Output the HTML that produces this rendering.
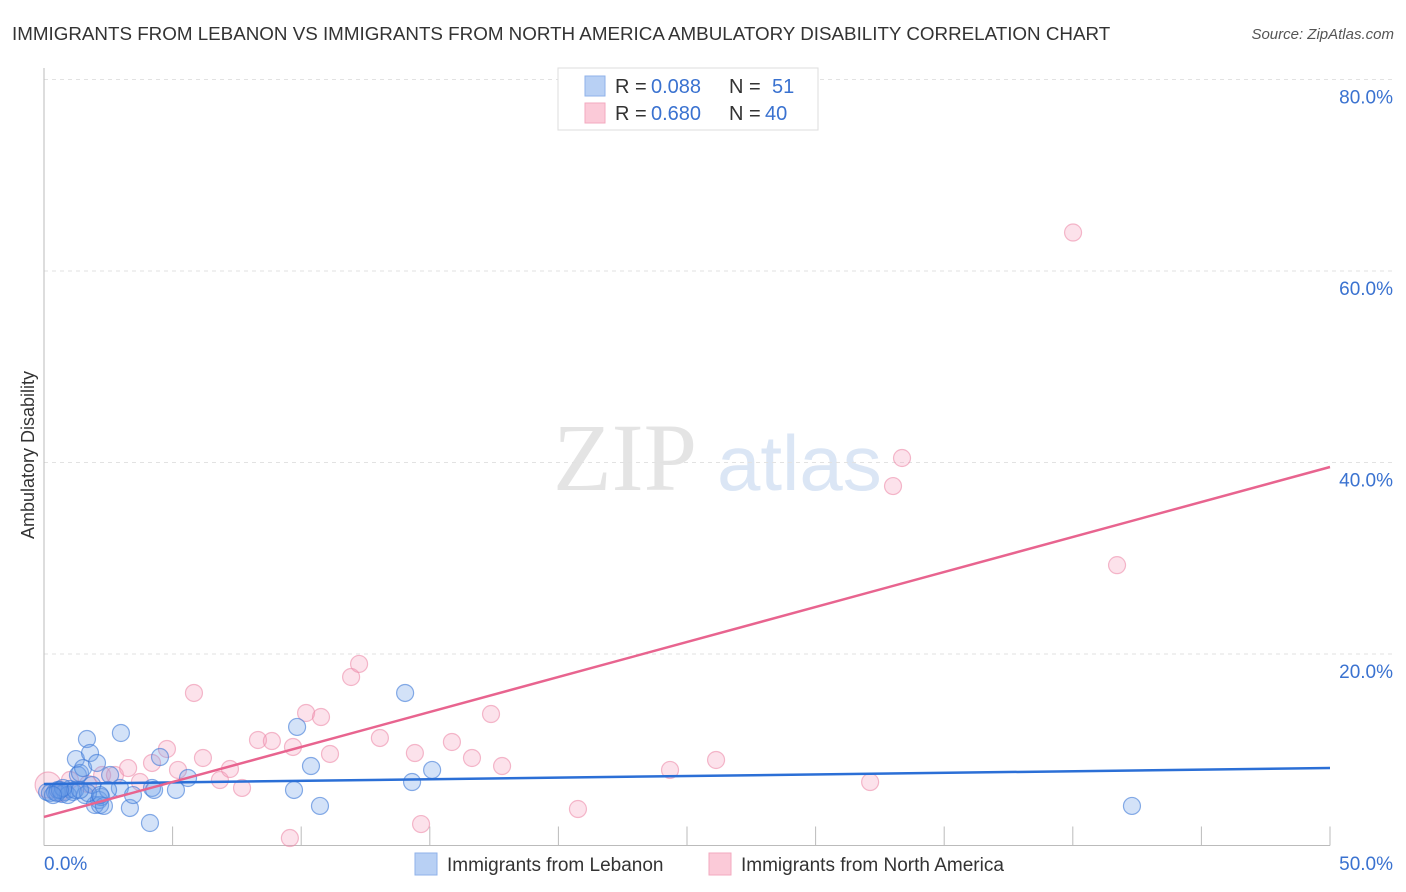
<!DOCTYPE html>
<html><head><meta charset="utf-8"><style>
body{margin:0;background:#fff;font-family:"Liberation Sans",sans-serif;}
svg{display:block}
</style></head><body>
<svg id="chart" width="1406" height="892">
<text x="12" y="40" font-size="18.8" fill="#333">IMMIGRANTS FROM LEBANON VS IMMIGRANTS FROM NORTH AMERICA AMBULATORY DISABILITY CORRELATION CHART</text>
<text x="1394" y="39" font-size="15" font-style="italic" fill="#555" text-anchor="end">Source: ZipAtlas.com</text>
<g>
<text x="553" y="490" font-family="Liberation Serif,serif" font-size="96" fill="#e4e4e4">ZIP</text>
<text x="717" y="490" font-size="78" fill="#dbe6f5">atlas</text>
</g>
<g id="grid"></g>
<g id="axes"></g>
<g id="marks"></g>
<g>
<rect x="558" y="68" width="260" height="62" fill="#fff" stroke="#ddd"/>
<rect x="585" y="76" width="20" height="20" fill="#b8d0f4" stroke="#8fb2ea"/>
<text x="615" y="93" font-size="20" fill="#333">R =</text>
<text x="651" y="93" font-size="20" fill="#3a72d0">0.088</text>
<text x="729" y="93" font-size="20" fill="#333">N =</text>
<text x="772" y="93" font-size="20" fill="#3a72d0">51</text>
<rect x="585" y="103" width="20" height="20" fill="#fbcad8" stroke="#f3a9bf"/>
<text x="615" y="120" font-size="20" fill="#333">R =</text>
<text x="651" y="120" font-size="20" fill="#3a72d0">0.680</text>
<text x="729" y="120" font-size="20" fill="#333">N =</text>
<text x="765" y="120" font-size="20" fill="#3a72d0">40</text>
</g>
<text transform="translate(34,455) rotate(-90)" font-size="18" fill="#333" text-anchor="middle">Ambulatory Disability</text>
<g>
<rect x="415" y="853" width="22" height="22" fill="#b8d0f4" stroke="#8fb2ea"/>
<text x="447" y="871" font-size="19" fill="#333">Immigrants from Lebanon</text>
<rect x="709" y="853" width="22" height="22" fill="#fbcad8" stroke="#f3a9bf"/>
<text x="741" y="871" font-size="19" fill="#333">Immigrants from North America</text>
</g>
</svg>
<script>
const yTicks=[20,40,60,80];
const yTickLabels=["20.0%","40.0%","60.0%","80.0%"];
const xEdgeLabels=["0.0%","50.0%"];
const blueX=[0.12,0.23,0.43,0.54,0.70,0.82,1.01,1.13,1.24,1.32,1.40,1.52,1.59,1.67,1.79,1.87,1.98,2.06,2.14,2.18,2.22,2.33,2.57,2.99,2.95,3.34,3.46,4.12,4.20,4.51,5.13,5.60,9.72,9.84,10.38,10.73,14.04,14.31,15.09,42.30,0.51,0.93,0.74,1.21,1.71,2.49,0.62,0.35,1.40,2.18,4.28];
const blueY=[5.59,5.48,5.59,5.80,5.38,5.59,5.90,5.59,9.03,7.36,7.57,8.09,5.27,11.12,9.66,6.32,4.23,8.62,4.75,4.23,5.07,4.13,7.36,11.75,6.01,3.92,5.27,2.35,6.01,9.24,5.80,7.05,5.80,12.38,8.30,4.13,15.93,6.63,7.89,4.13,5.48,5.27,6.01,5.80,5.48,5.80,5.80,5.27,5.80,5.27,5.80];
const pinkX=[0.16,0.62,1.01,1.71,2.26,2.76,3.27,3.73,4.20,4.78,5.21,5.83,6.18,6.84,7.23,7.70,8.32,8.86,9.56,9.68,10.19,10.77,11.12,11.94,12.25,13.06,14.42,14.66,15.86,16.64,17.38,17.81,20.76,24.34,26.13,32.12,33.01,33.36,40.01,41.72];
const pinkY=[6.32,5.48,6.84,6.42,7.36,7.36,8.09,6.63,8.62,10.08,7.89,15.93,9.14,6.84,7.99,6.01,11.02,10.91,0.78,10.29,13.84,13.42,9.56,17.60,18.96,11.23,9.66,2.24,10.81,9.14,13.73,8.30,3.81,7.89,8.93,6.63,37.54,40.47,64.02,29.28];
const blueLine=[6.42,8.09];
const pinkLine=[2.98,39.53];
const X0=44,X1=1330,Y0=845.5,YPER=9.575;
const sx=v=>X0+v*(X1-X0)/50;
const sy=v=>Y0-v*YPER;
const NS="http://www.w3.org/2000/svg";
function mk(tag,attrs,parent){const e=document.createElementNS(NS,tag);for(const k in attrs)e.setAttribute(k,attrs[k]);parent.appendChild(e);return e;}
const grid=document.getElementById('grid'),axes=document.getElementById('axes'),marks=document.getElementById('marks');
yTicks.forEach((t,i)=>{
 const l=mk('line',{x1:X0,x2:1394,y1:sy(t),y2:sy(t),stroke:'#e2e2e2','stroke-dasharray':'4,4'},grid);
 
 
 const tx=mk('text',{x:1393,y:sy(t)+24,'font-size':19,fill:'#3a72d0','text-anchor':'end'},grid);
 tx.textContent=yTickLabels[i];
 
 
});
const ya=mk('line',{x1:X0,x2:X0,y1:68,y2:Y0,stroke:'#bbb'},axes);


const xa=mk('line',{x1:X0,x2:X1,y1:Y0,y2:Y0,stroke:'#bbb'},axes);


for(let v=5;v<=50;v+=5){
 const t=mk('line',{x1:sx(v),x2:sx(v),y1:Y0-19,y2:Y0,stroke:'#bbb'},axes);
 
 
}
const xl0=mk('text',{x:X0,y:870,'font-size':19,fill:'#3a72d0'},axes);xl0.textContent=xEdgeLabels[0];


const xl1=mk('text',{x:1393,y:870,'font-size':19,fill:'#3a72d0','text-anchor':'end'},axes);xl1.textContent=xEdgeLabels[1];


pinkX.forEach((x,i)=>{
 const c=mk('circle',{cx:sx(x),cy:sy(pinkY[i]),r:i===0?13:8.5,fill:'rgba(244,160,188,0.3)',stroke:'rgba(236,140,170,0.6)','stroke-width':1.2},marks);
 
 
});
blueX.forEach((x,i)=>{
 const c=mk('circle',{cx:sx(x),cy:sy(blueY[i]),r:8.5,fill:'rgba(110,160,232,0.3)',stroke:'rgba(60,120,215,0.6)','stroke-width':1.2},marks);
 
 
});
const bl=mk('line',{x1:sx(0),x2:sx(50),y1:sy(blueLine[0]),y2:sy(blueLine[1]),stroke:'#2b6fd6','stroke-width':2.5},marks);


const pl=mk('line',{x1:sx(0),x2:sx(50),y1:sy(pinkLine[0]),y2:sy(pinkLine[1]),stroke:'#e8648f','stroke-width':2.5},marks);


</script>
</body></html>
